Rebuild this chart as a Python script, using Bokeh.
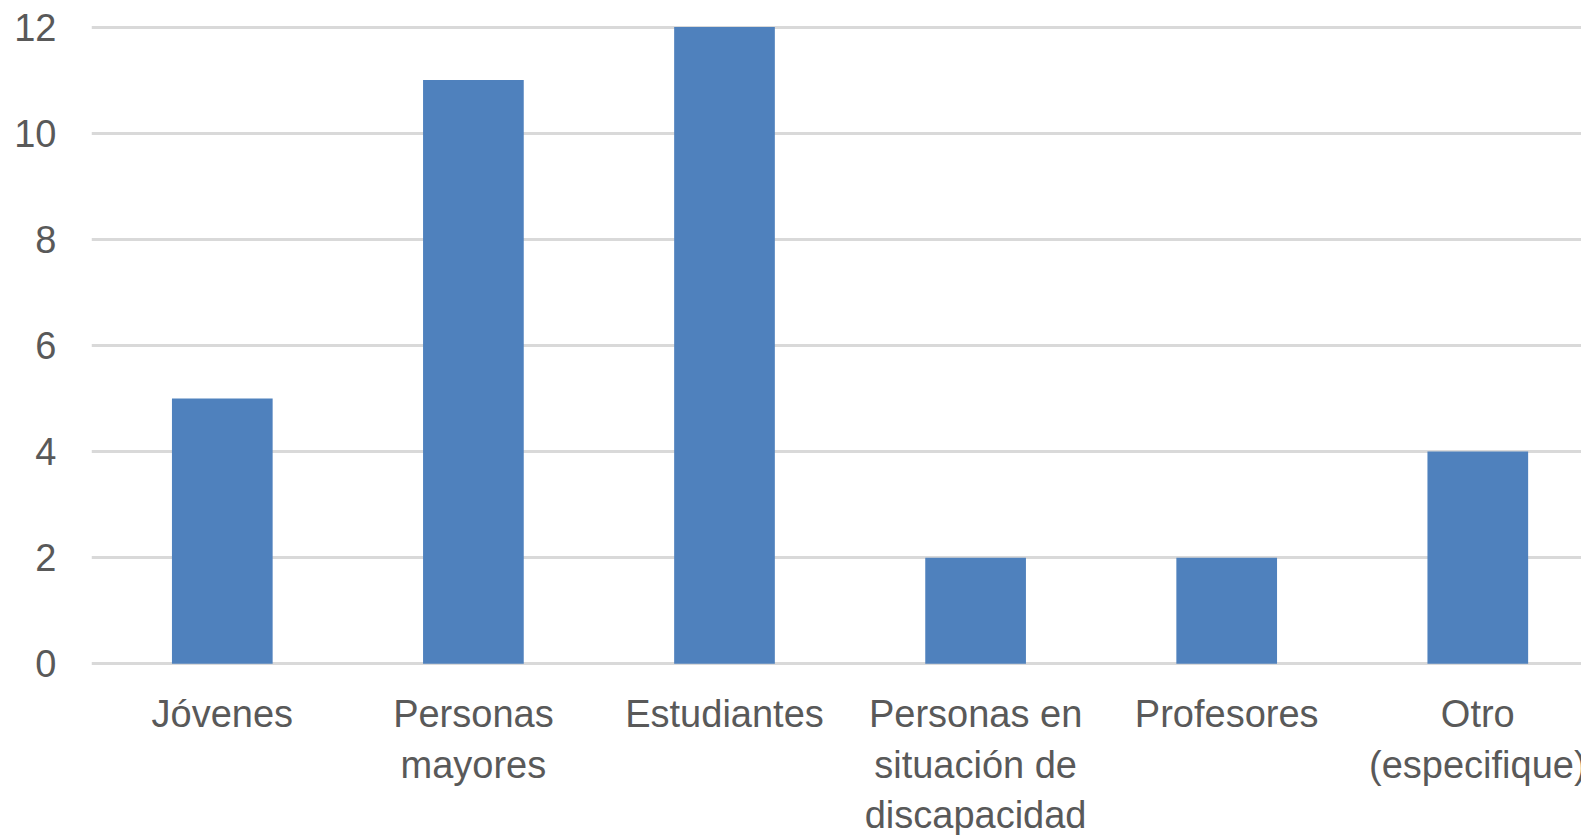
from bokeh.plotting import figure
from bokeh.models import Range1d, FixedTicker
from bokeh.core.properties import value
from bokeh.embed import file_html
from bokeh.resources import INLINE

categories = ["Jóvenes", "Personas\nmayores", "Estudiantes",
              "Personas en\nsituación de\ndiscapacidad", "Profesores",
              "Otro\n(especifique)"]
values = [5, 11, 12, 2, 2, 4]
y_ticks = [0, 2, 4, 6, 8, 10, 12]

xs = [i + 0.5 for i in range(len(categories))]

p = figure(width=1581, height=835, output_backend="svg", toolbar_location=None,
           x_range=Range1d(-0.0209, 5.913), y_range=Range1d(-3.235, 12.2544),
           x_axis_location=None,
           min_border_left=91, min_border_right=0, min_border_top=13,
           min_border_bottom=0)
p.outline_line_color = None
p.background_fill_color = "white"
p.border_fill_color = "white"

p.vbar(x=xs, top=values, bottom=0, width=0.401, color="#4F81BD", line_color=None)

font = "Liberation Sans"
grey = "#595959"

# category labels under each bar
p.text(x=xs, y=[0] * len(xs), text=categories, text_align="center",
       text_baseline="top", y_offset=29, text_font=value(font),
       text_font_size="38px", text_color=grey, text_line_height=1.207)

p.xgrid.grid_line_color = None

p.yaxis.ticker = FixedTicker(ticks=y_ticks)
p.yaxis.axis_line_color = None
p.yaxis.major_tick_line_color = None
p.yaxis.minor_tick_line_color = None
p.yaxis.major_tick_out = 0
p.yaxis.major_tick_in = 0
p.yaxis.minor_tick_out = 0
p.yaxis.major_label_text_font = font
p.yaxis.major_label_text_font_size = "38px"
p.yaxis.major_label_text_color = grey
p.yaxis.major_label_standoff = 35
p.ygrid.ticker = FixedTicker(ticks=y_ticks)
p.ygrid.grid_line_color = "#D9D9D9"
p.ygrid.grid_line_width = 3

open("out.html", "w").write(file_html(p, INLINE))
